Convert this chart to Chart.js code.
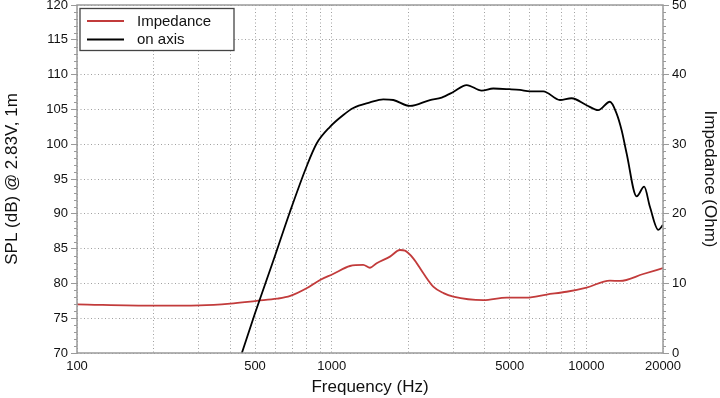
<!DOCTYPE html>
<html>
<head>
<meta charset="utf-8">
<script src="https://cdn.jsdelivr.net/npm/chart.js@4/dist/chart.umd.min.js"></script>
<style>
  html, body { margin: 0; padding: 0; background: #fff; }
  #wrap { width: 720px; height: 398px; position: relative; }
</style>
</head>
<body>
<div id="wrap"><canvas id="c" width="720" height="398"></canvas></div>
<script>
// ---- Data ----
const splFreq = [444, 500, 588, 686, 797, 873, 985, 1111, 1216, 1414, 1594, 1746, 2030, 2432, 2704, 3003, 3388, 3881, 4311, 5000, 5487, 6004, 6775, 7876, 8750, 10020, 11140, 12380, 13150, 13760, 14390, 15760, 16870, 17770, 19150, 20000];
const splDb   = [70, 75.7, 83.1, 90.3, 96.8, 100.1, 102.5, 104.2, 105.2, 106.0, 106.45, 106.35, 105.5, 106.35, 106.7, 107.5, 108.5, 107.7, 108.0, 107.9, 107.8, 107.6, 107.6, 106.35, 106.6, 105.6, 104.9, 106.1, 104.4, 102.0, 98.7, 92.5, 93.9, 91.0, 87.7, 88.4];

const impFreq = [100, 200, 303, 400, 508, 610, 688, 797, 900, 1013, 1180, 1330, 1414, 1502, 1694, 1854, 1940, 2091, 2291, 2512, 2750, 3003, 3939, 4866, 5840, 6985, 8364, 10020, 12380, 13550, 16730, 20000];
const impOhm  = [7.0, 6.8, 6.85, 7.1, 7.5, 7.8, 8.2, 9.3, 10.5, 11.35, 12.5, 12.65, 12.25, 12.9, 13.85, 14.8, 14.7, 13.6, 11.45, 9.5, 8.6, 8.1, 7.6, 7.95, 7.95, 8.4, 8.8, 9.4, 10.4, 10.35, 11.35, 12.2];

const freqGridTicks = [100, 200, 300, 400, 500, 600, 700, 800, 900, 1000, 2000, 3000, 4000, 5000, 6000, 7000, 8000, 9000, 10000, 20000];
const freqLabelTicks = [100, 500, 1000, 5000, 10000, 20000];

const seriesLabels = ['Impedance', 'on axis'];
const seriesColors = ['#c23b3b', '#000000'];

const FONT = '"Liberation Sans", Arial, Helvetica, sans-serif';
const AXIS_GRAY = '#9a9a9a';
const GRID_GRAY = '#a0a0a0';

const toPts = (xs, ys) => xs.map((x, i) => ({ x: x, y: ys[i] }));

// ---- Plugin: frame, minor ticks, legend ----
const decor = {
  id: 'decor',
  afterDatasetsDraw(chart) {
    const { ctx, chartArea: a, scales } = chart;
    ctx.save();
    ctx.setLineDash([]);
    // minor ticks
    ctx.strokeStyle = AXIS_GRAY;
    ctx.lineWidth = 1;
    const y = scales.y, y2 = scales.y2;
    ctx.beginPath();
    for (let v = 70; v <= 120; v++) {
      if (v % 5 === 0) continue;
      const py = Math.round(y.getPixelForValue(v)) + 0.5;
      ctx.moveTo(a.left - 3, py); ctx.lineTo(a.left, py);
    }
    for (let v = 0; v <= 50; v++) {
      if (v % 10 === 0) continue;
      const py = Math.round(y2.getPixelForValue(v)) + 0.5;
      ctx.moveTo(a.right, py); ctx.lineTo(a.right + 3, py);
    }
    ctx.stroke();
    // frame
    ctx.strokeStyle = AXIS_GRAY;
    ctx.lineWidth = 1.5;
    ctx.strokeRect(a.left, a.top, a.right - a.left, a.bottom - a.top);

    // legend
    const bx = 80, by = 8.5, bw = 154, bh = 42;
    ctx.fillStyle = '#fff';
    ctx.fillRect(bx, by, bw, bh);
    ctx.strokeStyle = '#444';
    ctx.lineWidth = 1.3;
    ctx.strokeRect(bx, by, bw, bh);
    ctx.font = '15px ' + FONT;
    ctx.textBaseline = 'middle';
    ctx.textAlign = 'left';
    const rows = [21, 39.5];
    for (let i = 0; i < seriesLabels.length; i++) {
      ctx.strokeStyle = seriesColors[i];
      ctx.lineWidth = 2;
      ctx.beginPath();
      ctx.moveTo(87, rows[i]); ctx.lineTo(124, rows[i]);
      ctx.stroke();
      ctx.fillStyle = '#111';
      ctx.fillText(seriesLabels[i], 137, rows[i] + 0.5);
    }
    ctx.restore();
  }
};

const noPad = (s) => { s.paddingTop = 0; s.paddingBottom = 0; s.paddingLeft = 0; s.paddingRight = 0; };

new Chart(document.getElementById('c'), {
  type: 'line',
  data: {
    datasets: [
      {
        label: seriesLabels[1],
        data: toPts(splFreq, splDb),
        yAxisID: 'y',
        borderColor: seriesColors[1],
        borderWidth: 1.8,
        pointRadius: 0,
        cubicInterpolationMode: 'monotone',
        fill: false,
        order: 0
      },
      {
        label: seriesLabels[0],
        data: toPts(impFreq, impOhm),
        yAxisID: 'y2',
        borderColor: seriesColors[0],
        borderWidth: 1.8,
        pointRadius: 0,
        cubicInterpolationMode: 'monotone',
        fill: false,
        order: 1
      }
    ]
  },
  options: {
    responsive: false,
    animation: false,
    devicePixelRatio: 1,
    layout: { padding: { top: 5, left: 0, right: 0, bottom: 0 } },
    plugins: { legend: { display: false }, tooltip: { enabled: false } },
    scales: {
      x: {
        type: 'logarithmic',
        position: 'bottom',
        min: 100, max: 20000,
        afterBuildTicks: (s) => { s.ticks = freqGridTicks.map(v => ({ value: v })); },
        afterFit: (s) => { s.height = 45; noPad(s); },
        ticks: {
          autoSkip: false, maxRotation: 0, minRotation: 0,
          padding: 6,
          color: '#111',
          font: { family: FONT, size: 13 },
          callback: (v) => freqLabelTicks.includes(v) ? String(v) : ''
        },
        grid: { color: GRID_GRAY, lineWidth: 1, drawTicks: false },
        border: { display: false, dash: [1, 2.5] },
        title: {
          display: true, text: 'Frequency (Hz)', color: '#111',
          font: { family: FONT, size: 17 }, padding: { top: 0, bottom: 0 }
        }
      },
      y: {
        position: 'left',
        min: 70, max: 120,
        afterFit: (s) => { s.width = 77; noPad(s); },
        ticks: {
          stepSize: 5, padding: 3, color: '#111',
          font: { family: FONT, size: 13 }
        },
        grid: { color: GRID_GRAY, lineWidth: 1, tickLength: 6, tickColor: AXIS_GRAY, tickBorderDash: [] },
        border: { display: false, dash: [1, 2.5] },
        title: {
          display: true, text: 'SPL (dB) @ 2.83V, 1m', color: '#111',
          font: { family: FONT, size: 17 }, padding: { top: 2, bottom: 0 }
        }
      },
      y2: {
        position: 'right',
        min: 0, max: 50,
        afterFit: (s) => { s.width = 57; noPad(s); },
        ticks: {
          stepSize: 10, padding: 3, color: '#111',
          font: { family: FONT, size: 13 }
        },
        grid: { drawOnChartArea: false, tickLength: 6, tickColor: AXIS_GRAY, tickBorderDash: [] },
        border: { display: false },
        title: {
          display: true, text: 'Impedance (Ohm)', color: '#111',
          font: { family: FONT, size: 17 }, padding: { top: 0, bottom: 0 }
        }
      }
    }
  },
  plugins: [decor]
});
</script>
</body>
</html>
